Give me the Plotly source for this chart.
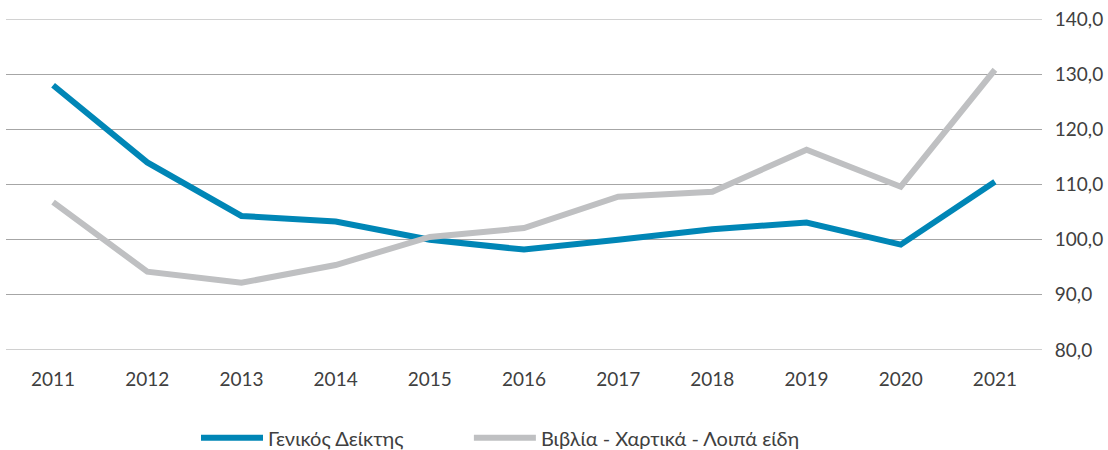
import plotly.graph_objects as go

years = ["2011", "2012", "2013", "2014", "2015", "2016", "2017", "2018", "2019", "2020", "2021"]
general_index = [128.0, 114.0, 104.3, 103.3, 100.0, 98.2, 100.0, 101.9, 103.1, 99.1, 110.5]
books_paper = [106.8, 94.2, 92.2, 95.4, 100.5, 102.1, 107.8, 108.7, 116.3, 109.6, 130.8]

font_family = "Lato, 'Noto Sans', sans-serif"
txt = "#404040"

fig = go.Figure()
fig.add_trace(go.Scatter(x=years, y=general_index, mode="lines", name="Γενικός Δείκτης",
                         line=dict(color="#0086B6", width=6), legend="legend"))
fig.add_trace(go.Scatter(x=years, y=books_paper, mode="lines", name="Βιβλία - Χαρτικά - Λοιπά είδη",
                         line=dict(color="#BFC0C2", width=6), legend="legend2"))

leg_common = dict(orientation="h", xanchor="left", y=-0.265, yanchor="middle",
                  font=dict(size=20, color=txt), itemwidth=62, bgcolor="rgba(0,0,0,0)")

fig.update_layout(
    width=1108, height=450,
    margin=dict(l=6, r=66, t=19, b=100, autoexpand=False),
    paper_bgcolor="white", plot_bgcolor="white",
    separators=",.",
    font=dict(family=font_family, size=19, color=txt),
    showlegend=True,
    legend=dict(x=0.1834, **leg_common),
    legend2=dict(x=0.4468, **leg_common),
    xaxis=dict(type="category", range=[-0.5, 10.5], showgrid=False, zeroline=False,
               showline=False, ticks="outside", ticklen=12, tickcolor="rgba(0,0,0,0)",
               tickfont=dict(size=19, color=txt), automargin=False),
    yaxis=dict(side="right", range=[80, 140], tickvals=[80, 90, 100, 110, 120, 130, 140],
               tickformat=".1f",
               showgrid=True, gridcolor="#A6A6A6", gridwidth=1, zeroline=False,
               showline=False, ticks="outside", ticklen=8, tickcolor="rgba(0,0,0,0)",
               tickfont=dict(size=19, color=txt), automargin=False),
)
fig.add_shape(type="line", xref="paper", yref="y", x0=0, x1=1, y0=140, y1=140,
              line=dict(color="#A6A6A6", width=1), layer="below")
fig.add_shape(type="line", xref="paper", yref="y", x0=0, x1=1, y0=80, y1=80,
              line=dict(color="#D0D0D0", width=2), layer="below")

fig.write_html("out.html", config={"displayModeBar": False},
               post_script="document.body.style.margin='0';document.body.style.overflow='hidden';")
